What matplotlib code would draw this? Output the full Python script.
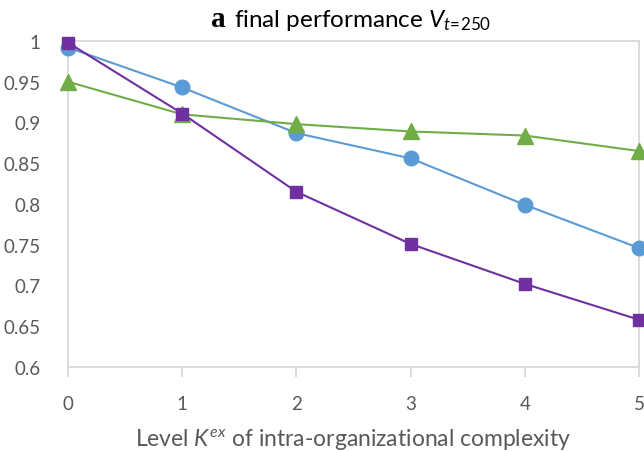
import matplotlib
matplotlib.use("Agg")
import matplotlib.pyplot as plt

# complexity levels and final performance for the three configurations
levels = [0, 1, 2, 3, 4, 5]
perf_circle = [0.992, 0.943, 0.887, 0.856, 0.799, 0.746]
perf_triangle = [0.950, 0.910, 0.898, 0.889, 0.884, 0.865]
perf_square = [0.998, 0.911, 0.815, 0.751, 0.702, 0.658]
y_ticks = [0.6, 0.65, 0.7, 0.75, 0.8, 0.85, 0.9, 0.95, 1.0]
y_tick_labels = ["0.6", "0.65", "0.7", "0.75", "0.8", "0.85", "0.9", "0.95", "1"]

plt.rcParams["font.family"] = ["Lato", "DejaVu Sans"]
plt.rcParams["mathtext.fontset"] = "custom"
plt.rcParams["mathtext.rm"] = "Lato"
plt.rcParams["mathtext.it"] = "Lato:italic"

fig = plt.figure(figsize=(6.44, 4.52), dpi=100)
ax = fig.add_axes([68 / 644, 1 - 368 / 452, (639 - 68) / 644, (368 - 42) / 452])

blue, green, purple = "#5B9BD5", "#70AD47", "#7030A0"
ax.plot(levels, perf_circle, color=blue, lw=1.5, marker="o", ms=10.5,
        mec=blue, clip_on=False, zorder=3)
ax.plot(levels, perf_triangle, color=green, lw=1.5, marker="^", ms=11.5,
        mec=green, clip_on=False, zorder=3)
ax.plot(levels, perf_square, color=purple, lw=1.5, marker="s", ms=9,
        mec=purple, clip_on=False, zorder=4)

ax.set_xlim(0, 5)
ax.set_ylim(0.6, 1.0)
ax.set_xticks(levels)
ax.set_yticks(y_ticks)
ax.set_yticklabels(y_tick_labels)
ax.set_yticks([0.6], minor=True)

grey = "#D9D9D9"
for s in ax.spines.values():
    s.set_color(grey)
    s.set_linewidth(1.3)

ax.tick_params(axis="x", which="major", length=7, width=1.3, color=grey,
               labelsize=13.5, labelcolor="#595959", pad=13)
ax.tick_params(axis="y", which="major", length=0, labelsize=13.5,
               labelcolor="#595959", pad=20)
ax.tick_params(axis="y", which="minor", length=7, width=1.3, color=grey)

ax.set_xlabel(r"Level $K^{ex}$ of intra-organizational complexity",
              fontsize=16.5, color="#595959", labelpad=10)

# title: bold serif panel letter followed by the sans caption
title_str = r"final performance $V_{t\!=\!250}$"
cap = fig.text(0, 1 - 27 / 452, title_str, ha="left", va="baseline",
               fontsize=17.5, color="black")
letter = fig.text(0, 1 - 27 / 452, "a", ha="left", va="baseline",
                  fontsize=21, color="black", fontweight="bold",
                  family=["Liberation Serif", "DejaVu Serif"])
fig.canvas.draw()
r = fig.canvas.get_renderer()
w_cap = cap.get_window_extent(r).width
w_let = letter.get_window_extent(r).width
gap = 8
total = w_let + gap + w_cap
x0 = 351 - total / 2
letter.set_x(x0 / 644)
cap.set_x((x0 + w_let + gap) / 644)

fig.savefig("out.png", dpi=100)
